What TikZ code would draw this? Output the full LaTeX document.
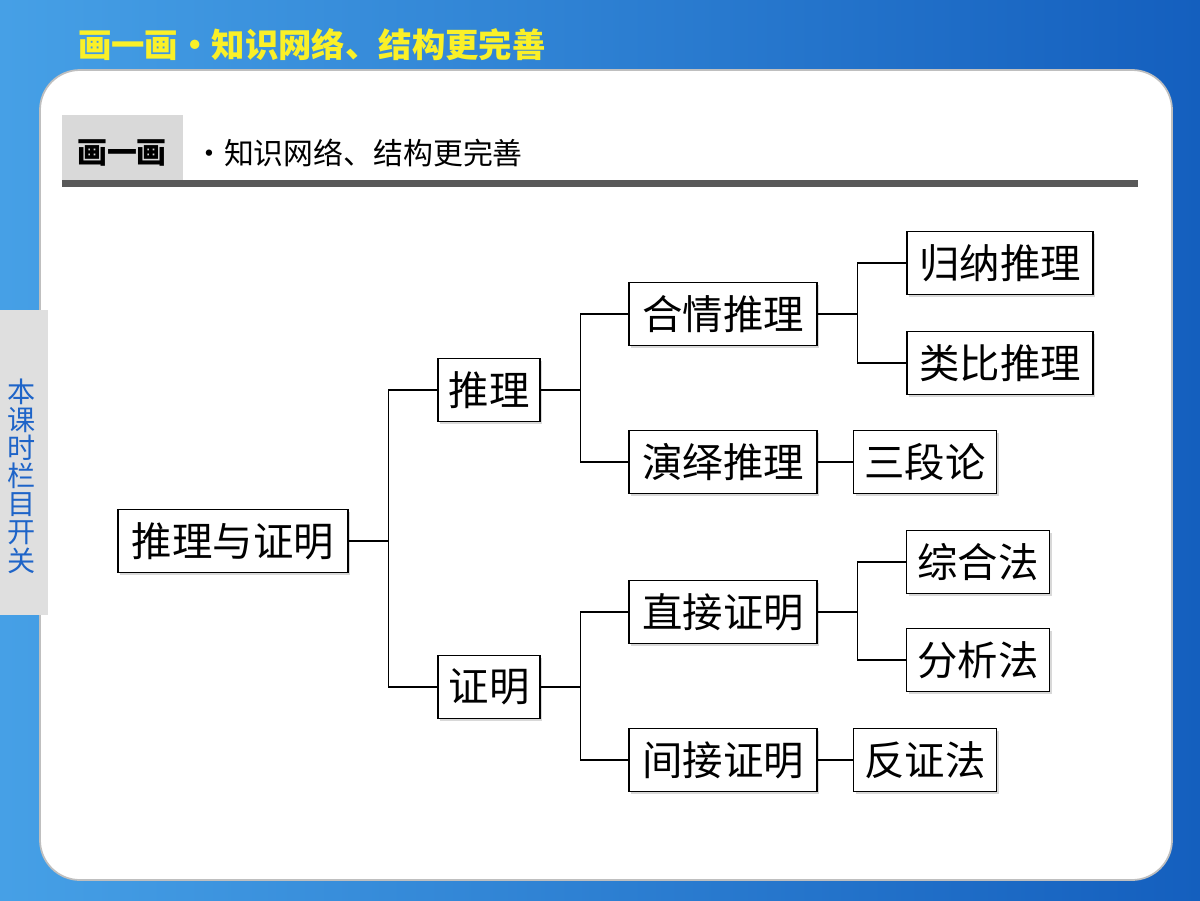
\documentclass[tikz,border=0pt]{standalone}
\usepackage{fontspec}
\setmainfont{Noto Sans CJK SC}
\usetikzlibrary{positioning,calc,shadows}
\definecolor{bgdark}{RGB}{20,95,190}
\definecolor{bglight}{RGB}{70,160,230}
\definecolor{tabblue}{RGB}{30,100,200}
\definecolor{titleyellow}{RGB}{250,240,40}
\begin{document}
\begin{tikzpicture}[x=0.02cm,y=-0.02cm]
    \tikzstyle{item}=[rectangle, draw=black, fill=white, line width=0.9pt, inner sep=0pt, minimum height=1.26cm, font=\fontsize{23}{25}\selectfont, drop shadow={shadow xshift=1.2pt,shadow yshift=-1.2pt,fill=gray!60}]
    \tikzstyle{link}=[line width=0.8pt]
    % Background
    \shade[left color=bglight, right color=bgdark] (0,0) rectangle (1200,900);
    \useasboundingbox (0,0) rectangle (1200,900);
    \node (title) [anchor=west, text=titleyellow, font=\fontsize{19}{21}\bfseries\selectfont] at (72,45) {画一画·知识网络、结构更完善};
    % Panel
    \fill[white, draw=gray!50, line width=1pt, rounded corners=0.8cm] (40,70) rectangle (1172,880);
    \fill[gray!25] (0,310) rectangle (48,615);
    \node (tab) [text=tabblue, align=center, font=\fontsize{16}{16}\selectfont] at (22,476) {本\\课\\时\\栏\\目\\开\\关};
    % Header
    \fill[white] (62,85) rectangle (1138,215);
    \fill[gray!30] (62,115) rectangle (183,180);
    \fill[gray!70!black] (62,180) rectangle (1138,187);
    \node (head) [font=\fontsize{17}{18}\bfseries\selectfont] at (122,153) {画一画};
    \node (sub) [anchor=west, font=\fontsize{17}{18}\selectfont] at (188,153) {·知识网络、结构更完善};
    % Tree
    \node (root) [item, minimum width=4.6cm] at (233,541) {推理与证明};
    \node (tl) [item, minimum width=2.04cm] at (489,390) {推理};
    \node (zm) [item, minimum width=2.04cm] at (489,687) {证明};
    \node (hq) [item, minimum width=3.76cm] at (723,314) {合情推理};
    \node (yy) [item, minimum width=3.76cm] at (723,462) {演绎推理};
    \node (zj) [item, minimum width=3.76cm] at (723,612) {直接证明};
    \node (jj) [item, minimum width=3.76cm] at (723,760) {间接证明};
    \node (gn) [item, minimum width=3.72cm] at (1000,263) {归纳推理};
    \node (lb) [item, minimum width=3.72cm] at (1000,363) {类比推理};
    \node (sd) [item, minimum width=2.86cm] at (925,462) {三段论};
    \node (zh) [item, minimum width=2.86cm] at (978,562) {综合法};
    \node (fx) [item, minimum width=2.86cm] at (978,660) {分析法};
    \node (fz) [item, minimum width=2.86cm] at (925,760) {反证法};
    % Links
    \draw[link] (root.east) -- ++(40,0) |- (tl.west);
    \draw[link] (root.east) -- ++(40,0) |- (zm.west);
    \draw[link] (tl.east) -- ++(40,0) |- (hq.west);
    \draw[link] (tl.east) -- ++(40,0) |- (yy.west);
    \draw[link] (zm.east) -- ++(40,0) |- (zj.west);
    \draw[link] (zm.east) -- ++(40,0) |- (jj.west);
    \draw[link] (hq.east) -- ++(40,0) |- (gn.west);
    \draw[link] (hq.east) -- ++(40,0) |- (lb.west);
    \draw[link] (zj.east) -- ++(40,0) |- (zh.west);
    \draw[link] (zj.east) -- ++(40,0) |- (fx.west);
    \draw[link] (yy) -- (sd);
    \draw[link] (jj) -- (fz);
\end{tikzpicture}
\end{document}
